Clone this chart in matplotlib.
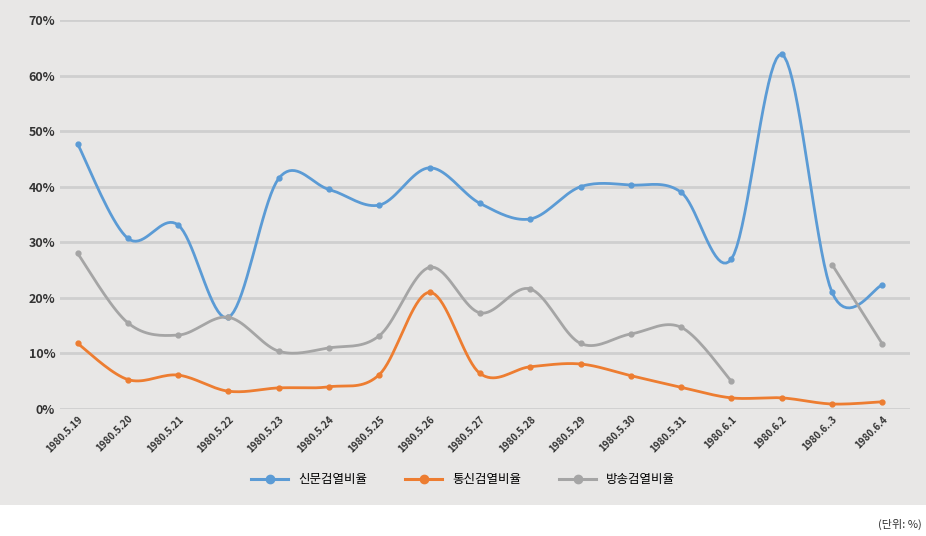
import numpy as np
import matplotlib
matplotlib.use("Agg")
import matplotlib.pyplot as plt
from matplotlib.patches import Rectangle
from matplotlib.lines import Line2D

plt.rcParams['font.family'] = ['Noto Sans CJK KR', 'DejaVu Sans']

dates = ["1980.5.19", "1980.5.20", "1980.5.21", "1980.5.22", "1980.5.23", "1980.5.24",
         "1980.5.25", "1980.5.26", "1980.5.27", "1980.5.28", "1980.5.29", "1980.5.30",
         "1980.5.31", "1980.6.1", "1980.6.2", "1980.6..3", "1980.6.4"]
newspaper = [47.7, 30.7, 33.1, 16.5, 41.5, 39.5, 36.7, 43.4, 37.0, 34.2, 40.0, 40.3,
             39.0, 27.0, 63.8, 21.0, 22.3]
telecom = [11.8, 5.3, 6.1, 3.2, 3.8, 4.0, 6.2, 21.0, 6.4, 7.6, 8.1, 6.0,
           3.9, 2.0, 2.0, 0.9, 1.3]
broadcast = [28.0, 15.5, 13.3, 16.5, 10.4, 11.0, 13.2, 25.5, 17.3, 21.6, 11.8, 13.5,
             14.7, 5.0, np.nan, 26.0, 11.7]

series = [("신문검열비율", newspaper, "#5b9bd5"),
          ("통신검열비율", telecom, "#ed7d31"),
          ("방송검열비율", broadcast, "#a5a5a5")]


def smooth(x, y, n=20):
    # Catmull-Rom curve through the points, like Excel's smoothed line
    xs, ys = [], []
    for i in range(len(x) - 1):
        p0 = np.array([x[max(i - 1, 0)], y[max(i - 1, 0)]])
        p1 = np.array([x[i], y[i]])
        p2 = np.array([x[i + 1], y[i + 1]])
        p3 = np.array([x[min(i + 2, len(x) - 1)], y[min(i + 2, len(x) - 1)]])
        c1 = p1 + (p2 - p0) / 6
        c2 = p2 - (p3 - p1) / 6
        t = np.linspace(0, 1, n)[:, None]
        pts = (1 - t) ** 3 * p1 + 3 * (1 - t) ** 2 * t * c1 + 3 * (1 - t) * t ** 2 * c2 + t ** 3 * p2
        xs.extend(pts[:, 0])
        ys.extend(pts[:, 1])
    return np.array(xs), np.array(ys)


fig = plt.figure(figsize=(9.26, 5.36), dpi=100)
fig.patch.set_facecolor("white")
fig.add_artist(Rectangle((0, 31 / 536), 1, 1, transform=fig.transFigure,
                         facecolor="#e8e7e6", edgecolor="none", zorder=-10))

ax = fig.add_axes([60 / 926, 127 / 536, 850 / 926, 389 / 536])
ax.set_facecolor("#e8e7e6")
x = np.arange(len(dates))

for name, vals, color in series:
    vals = np.array(vals, dtype=float)
    ok = ~np.isnan(vals)
    # split into runs without gaps
    runs, cur = [], []
    for i in range(len(vals)):
        if ok[i]:
            cur.append(i)
        elif cur:
            runs.append(cur)
            cur = []
    if cur:
        runs.append(cur)
    for r in runs:
        if len(r) > 1:
            sx, sy = smooth(x[r], vals[r])
            ax.plot(sx, sy, color=color, lw=2.0, solid_capstyle="round")
    ax.plot(x[ok], vals[ok], "o", color=color, ms=3.5)

ax.set_xlim(-0.35, len(dates) - 0.45)
ax.set_ylim(0, 70)
ax.set_yticks(range(0, 71, 10))
ax.set_yticklabels([f"{v}%" for v in range(0, 71, 10)], fontsize=9, fontweight="bold", color="#333333")
ax.set_xticks(x)
ax.set_xticklabels(dates, rotation=45, ha="right", rotation_mode="anchor",
                   fontsize=7, fontweight="bold", color="#333333")
ax.grid(axis="y", color="#cfcfcf", lw=2)
ax.set_axisbelow(True)
ax.tick_params(length=0)
for s in ax.spines.values():
    s.set_visible(False)

handles = [Line2D([0], [0], color=c, lw=2.2, marker="o", ms=6) for _, _, c in series]
fig.legend(handles, [n for n, _, _ in series], loc="center", bbox_to_anchor=(0.5, 56 / 536),
           ncol=3, frameon=False, fontsize=9, handlelength=3, columnspacing=3)
fig.text(0.995, 12 / 536, "(단위: %)", ha="right", va="center", fontsize=8, color="#333333")

fig.savefig("out.png", dpi=100, facecolor=fig.get_facecolor())
